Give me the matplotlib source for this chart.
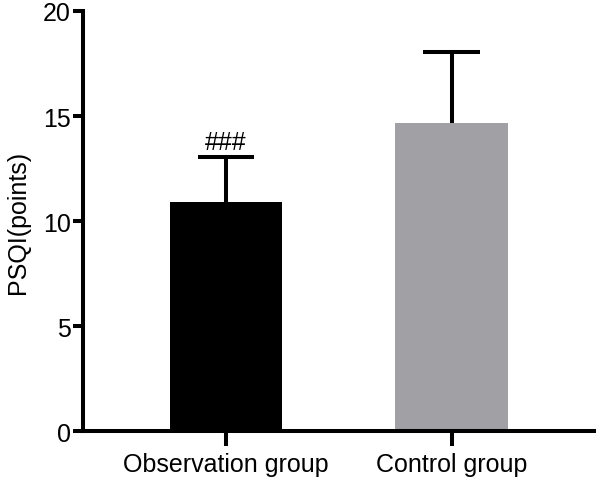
import matplotlib
matplotlib.use("Agg")
import matplotlib.pyplot as plt

categories = ["Observation group", "Control group"]
means = [10.9, 14.67]
sds = [2.13, 3.4]
colors = ["#000000", "#a1a0a4"]
annotations = ["###", ""]
yticks = [0, 5, 10, 15, 20]

plt.rcParams['font.family'] = ['Liberation Sans', 'DejaVu Sans']

fig = plt.figure(figsize=(6, 4.85), dpi=100)
ax = fig.add_axes([83.3/600, 1-432.3/485, (594.3-83.3)/600, (432.3-12)/485])

x = list(range(len(categories)))
lw = 2.9
ax.bar(x, means, width=0.5, color=colors, zorder=2)
tops = [m + s for m, s in zip(means, sds)]
ax.vlines(x, means, tops, color='black', linewidth=lw, zorder=1)
ax.hlines(tops, [xi - 0.126 for xi in x], [xi + 0.126 for xi in x],
          color='black', linewidth=lw, zorder=1)
for xi, t, a in zip(x, tops, annotations):
    if a:
        ax.text(xi, t + 0.17, a, ha='center', va='bottom', fontsize=18)

ax.set_xlim(-0.633, 1.633)
ax.set_ylim(0, 20)
ax.set_yticks(yticks)
ax.set_xticks(x)
ax.set_xticklabels(categories)
ax.set_ylabel("PSQI(points)", fontsize=18, labelpad=9)
for sp in ['top', 'right']:
    ax.spines[sp].set_visible(False)
for sp in ['left', 'bottom']:
    ax.spines[sp].set_linewidth(lw)
ax.tick_params(axis='y', length=7.2, width=lw, labelsize=18, pad=2)
ax.tick_params(axis='x', length=11, width=lw, labelsize=18, pad=4)

fig.savefig("out.png", dpi=100)
